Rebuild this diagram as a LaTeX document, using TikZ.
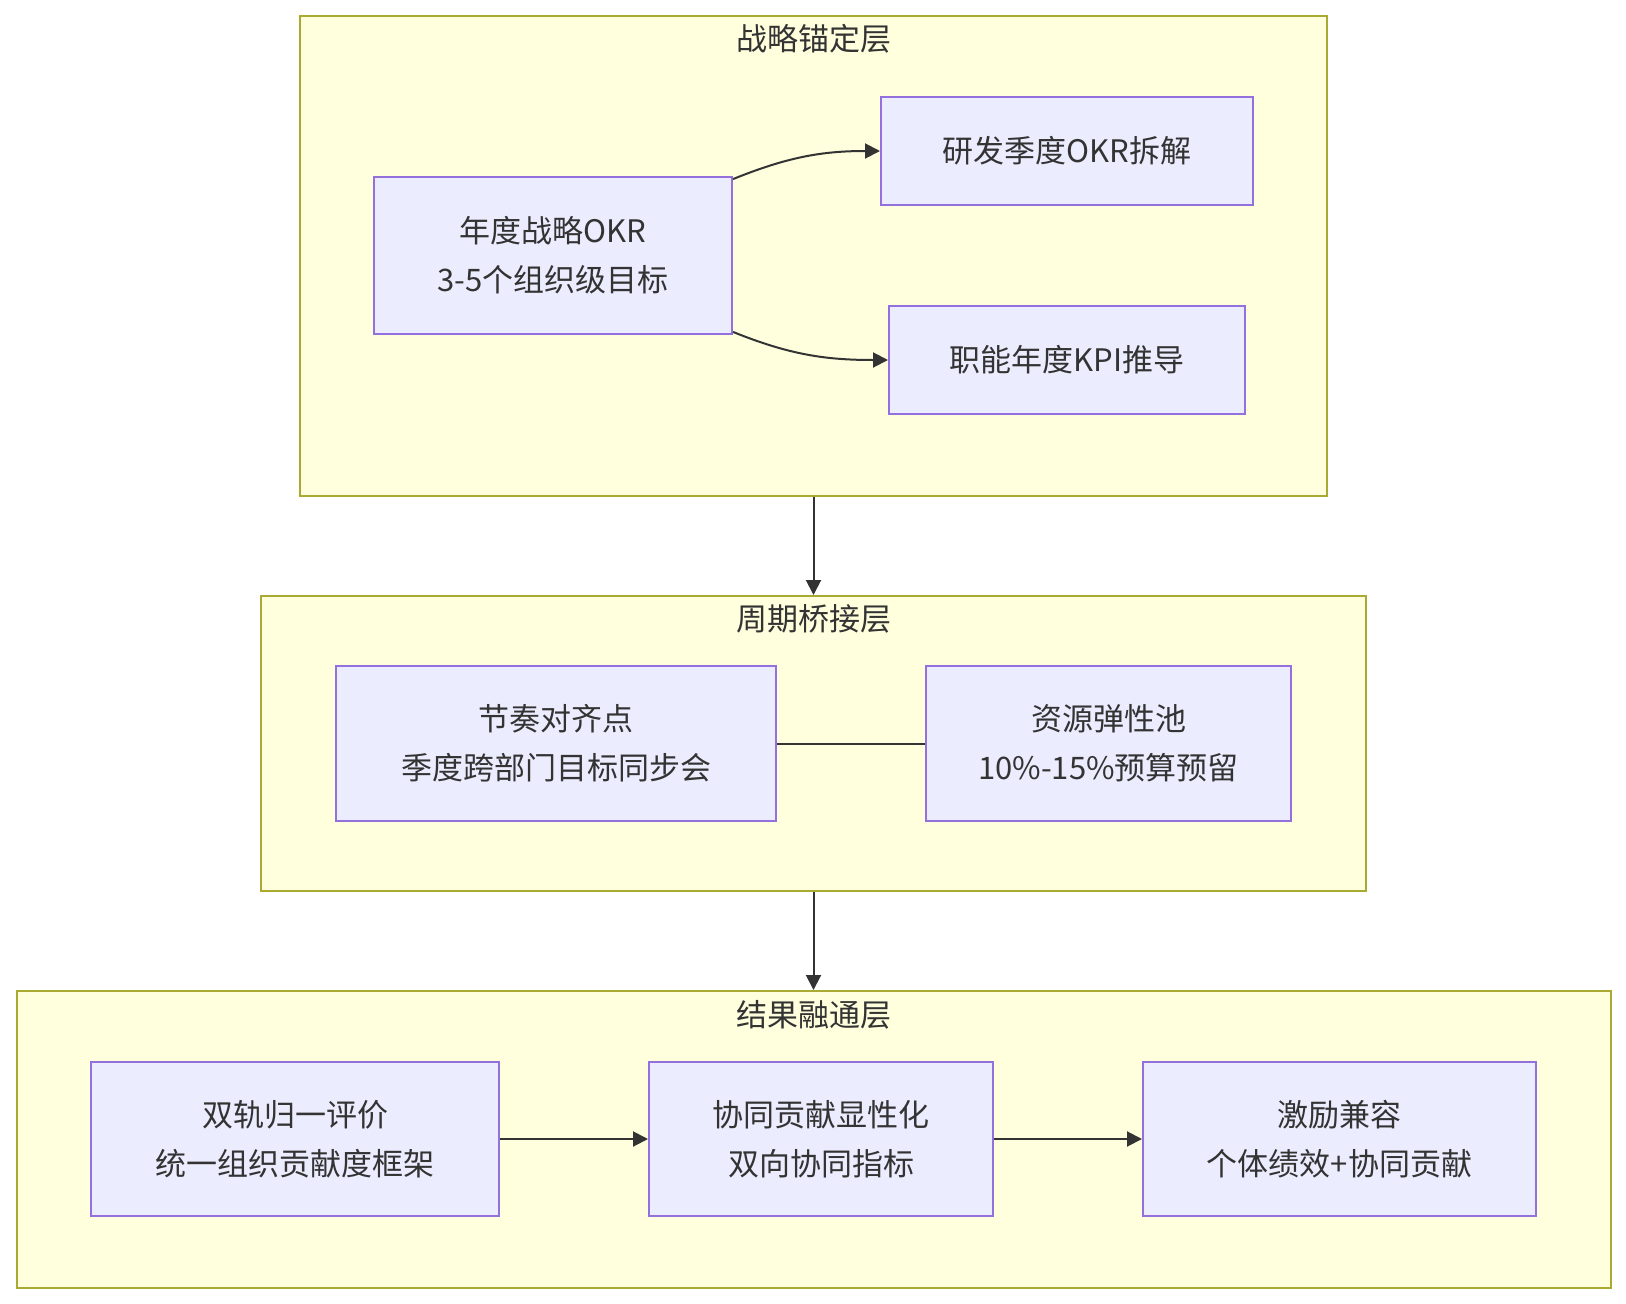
\documentclass[tikz,border=0pt]{standalone}
\usepackage{fontspec}
\setmainfont{Noto Sans CJK SC}
\usetikzlibrary{positioning,arrows.meta}
\definecolor{layerfill}{HTML}{FFFFDE}
\definecolor{layerline}{HTML}{AAAA33}
\definecolor{boxfill}{HTML}{ECECFF}
\definecolor{boxline}{HTML}{9370DB}
\definecolor{txt}{HTML}{333333}

\begin{document}
\begin{tikzpicture}[x=1pt,y=-1pt,font=\fontsize{31}{49}\selectfont,
  layer/.style={draw=layerline,fill=layerfill,line width=2pt,inner sep=0pt},
  okrbox/.style={draw=boxline,fill=boxfill,line width=2pt,align=center,text=txt,inner sep=0pt},
  flow/.style={draw=txt,line width=2pt,-{Triangle[length=15pt,width=15pt]}}]
  \useasboundingbox (0,0) rectangle (1626,1304);
  % layers
  \node[layer,minimum width=1027pt,minimum height=480pt] (anchor) at (813.5,256) {};
  \node[layer,minimum width=1105pt,minimum height=295pt] (bridge) at (813.5,743.5) {};
  \node[layer,minimum width=1594pt,minimum height=297pt] (merge) at (813.5,1139.5) {};
  \node[text=txt] (anchortitle) at (814,39) {战略锚定层};
  \node[text=txt] (bridgetitle) at (814,619) {周期桥接层};
  \node[text=txt] (mergetitle) at (814,1015) {结果融通层};
  % boxes
  \node[okrbox,minimum width=358pt,minimum height=157pt] (annual) at (553,255.5) {年度战略OKR\\3-5个组织级目标};
  \node[okrbox,minimum width=372pt,minimum height=108pt] (rnd) at (1067,151) {研发季度OKR拆解};
  \node[okrbox,minimum width=356pt,minimum height=108pt] (kpi) at (1067,360) {职能年度KPI推导};
  \node[okrbox,minimum width=440pt,minimum height=155pt] (rhythm) at (556,743.5) {节奏对齐点\\季度跨部门目标同步会};
  \node[okrbox,minimum width=365pt,minimum height=155pt] (pool) at (1108.5,743.5) {资源弹性池\\10\%-15\%预算预留};
  \node[okrbox,minimum width=408pt,minimum height=154pt] (review) at (295,1139) {双轨归一评价\\统一组织贡献度框架};
  \node[okrbox,minimum width=344pt,minimum height=154pt] (coop) at (821,1139) {协同贡献显性化\\双向协同指标};
  \node[okrbox,minimum width=393pt,minimum height=154pt] (reward) at (1339.5,1139) {激励兼容\\个体绩效+协同贡献};
  % connectors
  \draw[flow] (annual.23) to[out=22,in=180] (rnd.west);
  \draw[flow] (annual.-23) to[out=-22,in=180] (kpi.west);
  \draw[draw=txt,line width=2pt] (rhythm) -- (pool);
  \draw[flow] (review) -- (coop);
  \draw[flow] (coop) -- (reward);
  \draw[flow] (anchor) -- (bridge);
  \draw[flow] (bridge) -- (merge);
\end{tikzpicture}
\end{document}
